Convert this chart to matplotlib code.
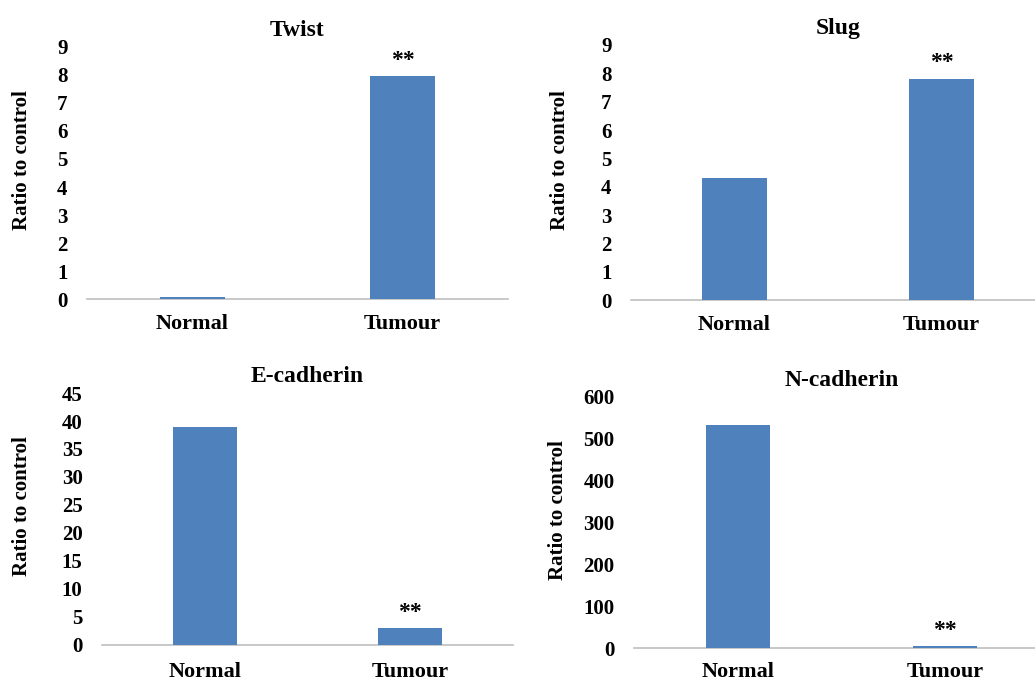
import matplotlib
matplotlib.use("Agg")
import matplotlib.pyplot as plt

# Data
categories = ["Normal", "Tumour"]
titles = ["Twist", "Slug", "E-cadherin", "N-cadherin"]
twist = [0.08, 7.95]
slug = [4.3, 7.8]
e_cadherin = [39, 3]
n_cadherin = [533, 4]
y_max = [9, 9, 45, 600]
y_step = [1, 1, 5, 100]
stars = ["**", "**", "**", "**"]

plt.rcParams["font.family"] = ["Liberation Serif", "DejaVu Serif"]
plt.rcParams["font.weight"] = "bold"

bar_color = "#4F81BD"
axis_color = "#BFBFBF"

fig = plt.figure(figsize=(10.35, 6.82), dpi=100)
W, H = 1035, 682

# axes boxes in pixels: left, right, top, bottom
boxes = [
    (87, 508, 47, 299),
    (631, 1045, 45, 300),
    (102, 513, 393, 645),
    (634, 1049, 397, 648),
]
# right edge (pixels) of each y label
label_right = [32, 570, 32, 568]
# x tick label padding per panel
x_pad = [10.5, 10.5, 12, 10]

series = [twist, slug, e_cadherin, n_cadherin]

for i, values in enumerate(series):
    l, r, t, b = boxes[i]
    ax = fig.add_axes([l / W, 1 - b / H, (r - l) / W, (b - t) / H])
    x = list(range(len(categories)))
    ax.bar(x, values, width=0.31, color=bar_color, zorder=3)
    ax.set_xlim(-0.5, 1.5)
    ax.set_ylim(0, y_max[i])
    ax.set_yticks([k * y_step[i] for k in range(int(y_max[i] / y_step[i]) + 1)])
    ax.set_xticks(x)
    ax.set_xticklabels(categories, fontsize=16, fontweight="bold")
    for lab in ax.get_yticklabels():
        lab.set_fontsize(15)
        lab.set_fontweight("bold")
    ax.tick_params(axis="y", length=0, pad=14)
    ax.tick_params(axis="x", length=0, pad=x_pad[i])
    for side in ["top", "right", "left"]:
        ax.spines[side].set_visible(False)
    ax.spines["bottom"].set_color(axis_color)
    ax.spines["bottom"].set_linewidth(1.2)
    ax.set_title(titles[i], fontsize=17, fontweight="bold", pad=8)
    ax.set_ylabel("Ratio to control", fontsize=15, fontweight="bold")
    ax.yaxis.set_label_coords((label_right[i] - l) / (r - l), 0.55)

    # significance marks over the tumour bar
    ax.annotate(stars[i], (1, values[1]), xytext=(0, 4), textcoords="offset points",
                ha="center", va="bottom", fontsize=17, fontweight="bold")

fig.savefig("out.png", dpi=100)
